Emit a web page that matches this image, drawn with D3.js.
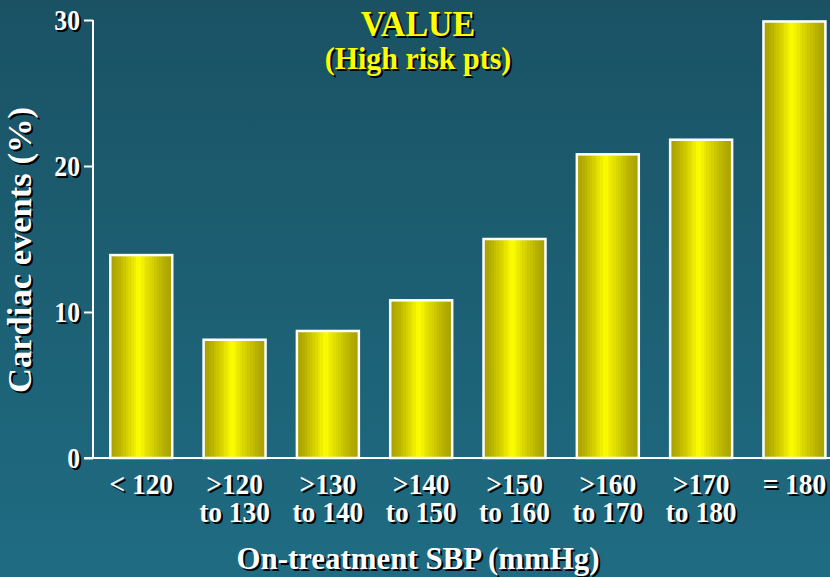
<!DOCTYPE html>
<html>
<head>
<meta charset="utf-8">
<script src="https://cdn.jsdelivr.net/npm/d3@7"></script>
<style>
  html, body { margin: 0; padding: 0; background: #1c5e72; }
  svg { display: block; }
  text { font-family: "Liberation Serif", "Times New Roman", serif; font-weight: bold; }
</style>
</head>
<body>
<svg id="chart" width="830" height="577"></svg>
<script>
// SBP bands (two-line labels) and cardiac event rates
const categories = ["< 120", ">120 to 130", ">130 to 140", ">140 to 150", ">150 to 160", ">160 to 170", ">170 to 180", "= 180"];
const labelLines = [["< 120"], [">120", "to 130"], [">130", "to 140"], [">140", "to 150"], [">150", "to 160"], [">160", "to 170"], [">170", "to 180"], ["= 180"]];
const eventRates = [13.9, 8.1, 8.7, 10.8, 15.0, 20.8, 21.8, 29.9];
const yTicks = [0, 10, 20, 30];
const titleLines = ["VALUE", "(High risk pts)"];
const yTitle = "Cardiac events (%)";
const xTitle = "On-treatment SBP (mmHg)";

const W = 830, H = 577;
const svg = d3.select("#chart");
const defs = svg.append("defs");

// background: slightly darker at the top
const bg = defs.append("linearGradient").attr("id", "bg")
  .attr("x1", 0).attr("y1", 0).attr("x2", 0).attr("y2", 1);
bg.append("stop").attr("offset", 0).attr("stop-color", "#1a5264");
bg.append("stop").attr("offset", 1).attr("stop-color", "#1f6c82");
svg.append("rect").attr("width", W).attr("height", H).attr("fill", "url(#bg)");

// banded metallic-yellow fill for the bars
const barGrad = defs.append("linearGradient").attr("id", "barFill")
  .attr("x1", 0).attr("y1", 0).attr("x2", 1).attr("y2", 0);
const bands = 24, peak = 0.46;
const dark = d3.rgb("#a8a000"), light = d3.rgb("#ffff00");
for (let i = 0; i < bands; i++) {
  const a = i / bands, b = (i + 1) / bands, mid = (a + b) / 2;
  const t = mid <= peak ? mid / peak : (1 - mid) / (1 - peak);
  const c = d3.interpolateRgb(dark, light)(Math.pow(t, 1.3));
  barGrad.append("stop").attr("offset", a).attr("stop-color", c);
  barGrad.append("stop").attr("offset", b).attr("stop-color", c);
}

const x = d3.scaleBand().domain(categories).range([94.6, 841.1])
  .paddingInner(0.336).paddingOuter(0.168);
const y = d3.scaleLinear().domain([0, 30]).range([458, 20]);

// text helper: white (or yellow) text with a black drop shadow,
// drawn slightly tall and narrow like a condensed Times face
function shadowText(g, str, px, py, opts) {
  const o = Object.assign({ size: 28, fill: "#fff", anchor: "middle", rotate: 0, sx: 1, sy: 1 }, opts || {});
  const tr = (dx, dy) => `translate(${px + dx},${py + dy}) rotate(${o.rotate}) scale(${o.sx},${o.sy})`;
  g.append("text").attr("transform", tr(2, 2)).attr("text-anchor", o.anchor)
    .attr("font-size", o.size).attr("fill", "#000").text(str);
  g.append("text").attr("transform", tr(0, 0)).attr("text-anchor", o.anchor)
    .attr("font-size", o.size).attr("fill", o.fill).text(str);
}

// bars
svg.append("g").selectAll("rect").data(eventRates).join("rect")
  .attr("x", (d, i) => x(categories[i]))
  .attr("y", d => y(d))
  .attr("width", x.bandwidth())
  .attr("height", d => y(0) - y(d))
  .attr("fill", "url(#barFill)")
  .attr("stroke", "#ffffff")
  .attr("stroke-width", 2.5);

// axes lines and ticks
const axisG = svg.append("g");
const yAxis = d3.axisLeft(y).tickValues(yTicks).tickSize(9).tickFormat("");
axisG.append("g").attr("transform", "translate(93,0)").call(yAxis)
  .call(g => g.select(".domain").attr("stroke", "#fff").attr("stroke-width", 2).attr("d", `M0,${y(30)}V${y(0)}`))
  .call(g => g.selectAll(".tick line").attr("stroke", "#fff").attr("stroke-width", 2));
axisG.append("line").attr("x1", 84).attr("x2", W).attr("y1", y(0)).attr("y2", y(0))
  .attr("stroke", "#fff").attr("stroke-width", 2);

// tick labels
const tickG = svg.append("g");
yTicks.forEach(v => shadowText(tickG, String(v), 80, y(v) + 10, { size: 27, anchor: "end", sx: 0.95, sy: 1.08 }));

// category labels
const catG = svg.append("g");
labelLines.forEach((lines, i) => {
  const cx = x(categories[i]) + x.bandwidth() / 2;
  lines.forEach((ln, j) => shadowText(catG, ln, cx, 494 + j * 28, { size: 28, sx: 0.98, sy: 1.08 }));
});

// axis titles
const titleG = svg.append("g");
shadowText(titleG, xTitle, 418, 569, { size: 30, sx: 1.03, sy: 1.08 });
shadowText(titleG, yTitle, 31, 250, { size: 32, rotate: -90, sx: 1.08, sy: 1.05 });

// chart title
shadowText(titleG, titleLines[0], 418, 36, { size: 34, fill: "#ffff00", sy: 1.08 });
shadowText(titleG, titleLines[1], 418, 69, { size: 30, fill: "#ffff00", sy: 1.05 });
</script>
</body>
</html>
